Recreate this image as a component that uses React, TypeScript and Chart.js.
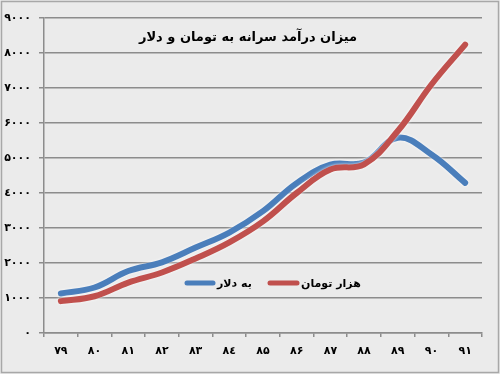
import React, { useEffect, useRef } from "react";
import { Chart, registerables } from "chart.js";

Chart.register(...registerables);

const years = ["۷۹", "۸۰", "۸۱", "۸۲", "۸۳", "۸٤", "۸۵", "۸۶", "۸۷", "۸۸", "۸۹", "۹۰", "۹۱"];
const tomanValues = [910, 1050, 1440, 1730, 2130, 2590, 3190, 4000, 4670, 4820, 5770, 7100, 8240];
const dollarValues = [1130, 1300, 1770, 2020, 2440, 2870, 3480, 4280, 4810, 4870, 5580, 5100, 4290];
const yTickLabels = ["۰", "۱۰۰۰", "۲۰۰۰", "۳۰۰۰", "٤۰۰۰", "۵۰۰۰", "۶۰۰۰", "۷۰۰۰", "۸۰۰۰", "۹۰۰۰"];
const titleText = "میزان درآمد سرانه به تومان و دلار";
const tomanLabel = "هزار تومان";
const dollarLabel = "به دلار";

const RED = "#c0504d";
const BLUE = "#4a7ebb";
const FONT = "'DejaVu Sans', sans-serif";

export default function App() {
  const ref = useRef<HTMLCanvasElement | null>(null);

  useEffect(() => {
    document.body.style.margin = "0";
    const canvas = ref.current!;
    const bgPlugin = {
      id: "bgFrame",
      beforeDraw(chart: any) {
        const ctx = chart.ctx;
        ctx.save();
        ctx.fillStyle = "#ebebeb";
        ctx.fillRect(0, 0, chart.width, chart.height);
        ctx.strokeStyle = "#a8a8a8";
        ctx.lineWidth = 1.5;
        ctx.strokeRect(1.5, 1.5, chart.width - 3, chart.height - 3);
        ctx.restore();
      },
      beforeDatasetDraw(chart: any) {
        const ctx = chart.ctx;
        ctx.save();
        ctx.shadowColor = "rgba(255,255,255,0.95)";
        ctx.shadowBlur = 3;
      },
      afterDatasetDraw(chart: any) {
        chart.ctx.restore();
      },
      afterDraw(chart: any) {
        const ctx = chart.ctx;
        const a = chart.chartArea;
        ctx.save();
        ctx.fillStyle = "#000";
        ctx.font = `bold 13px ${FONT}`;
        ctx.textBaseline = "middle";
        ctx.textAlign = "center";
        ctx.fillText(titleText, (a.left + a.right) / 2 - 15, a.top + 20);
        // legend
        const ly = a.top + 265;
        ctx.lineCap = "round";
        ctx.lineWidth = 5;
        ctx.strokeStyle = BLUE;
        ctx.beginPath();
        ctx.moveTo(a.left + 143, ly);
        ctx.lineTo(a.left + 169, ly);
        ctx.stroke();
        ctx.strokeStyle = RED;
        ctx.beginPath();
        ctx.moveTo(a.left + 226, ly);
        ctx.lineTo(a.left + 253, ly);
        ctx.stroke();
        ctx.font = `bold 11px ${FONT}`;
        ctx.fillStyle = "#000";
        ctx.textAlign = "left";
        ctx.fillText(dollarLabel, a.left + 173, ly + 1);
        ctx.fillText(tomanLabel, a.left + 257, ly + 1);
        ctx.restore();
      },
    };

    const chart = new Chart(canvas, {
      type: "line",
      data: {
        labels: years,
        datasets: [
          {
            label: tomanLabel,
            data: tomanValues,
            borderColor: RED,
            borderWidth: 6,
            pointRadius: 0,
            tension: 0.4,
            borderCapStyle: "round",
            fill: false,
          },
          {
            label: dollarLabel,
            data: dollarValues,
            borderColor: BLUE,
            borderWidth: 6,
            pointRadius: 0,
            tension: 0.4,
            borderCapStyle: "round",
            fill: false,
          },
        ],
      },
      options: {
        animation: false,
        responsive: false,
        layout: { padding: { left: 0, right: 18, top: 18, bottom: 0 } },
        plugins: { legend: { display: false }, title: { display: false }, tooltip: { enabled: false } },
        scales: {
          x: {
            offset: true,
            grid: { display: true, drawOnChartArea: false, offset: true, drawTicks: true, tickLength: 4, color: "#8c8c8c", lineWidth: 1.5 },
            border: { color: "#8c8c8c", width: 1.5 },
            ticks: {
              color: "#000",
              font: { family: FONT, size: 11, weight: "bold" },
              padding: 8,
              maxRotation: 0,
              autoSkip: false,
            },
            afterFit(scale: any) {
              scale.height = 41;
            },
          },
          y: {
            min: 0,
            max: 9000,
            grid: { color: "#8c8c8c", lineWidth: 1.5, tickLength: 5 },
            border: { color: "#8c8c8c", width: 1.5 },
            ticks: {
              stepSize: 1000,
              color: "#000",
              padding: 8,
              font: { family: FONT, size: 11, weight: "bold" },
              callback: (v: any) => yTickLabels[Math.round(Number(v) / 1000)],
            },
            afterFit(scale: any) {
              scale.width = 44;
            },
          },
        },
      },
      plugins: [bgPlugin],
    } as any);

    return () => chart.destroy();
  }, []);

  return <canvas ref={ref} width={500} height={374} style={{ display: "block" }} />;
}
